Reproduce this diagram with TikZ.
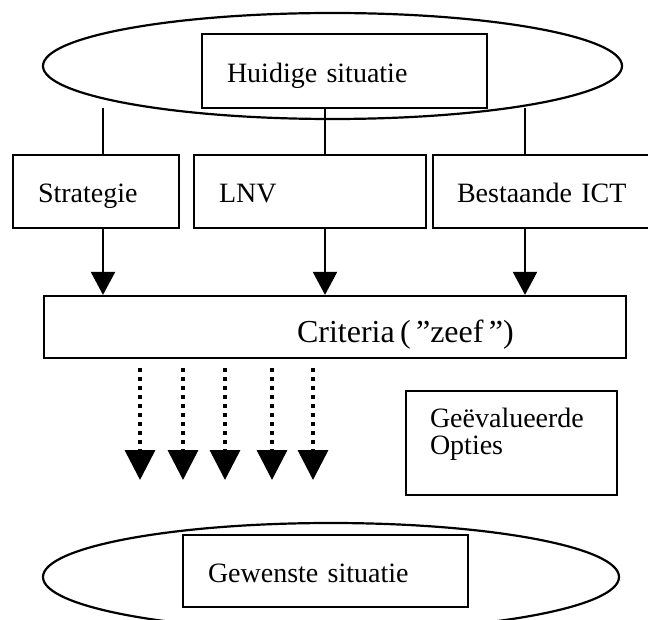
\documentclass[tikz,border=0pt]{standalone}
\usepackage{fontspec}
\setmainfont{Liberation Serif}
\usetikzlibrary{shapes.geometric, arrows.meta, positioning}

\begin{document}
\begin{tikzpicture}[x=1pt, y=-1pt, line width=2.2pt,
    font=\fontsize{28}{27}\selectfont,
    situatie/.style={draw, ellipse, inner sep=0pt},
    kader/.style={draw, rectangle, inner xsep=25pt, inner ysep=0pt, align=left,
        text height=23pt, text depth=0pt},
    stap/.style={-{Triangle[width=24pt, length=23pt]}},
    zeef/.style={-{Triangle[width=30pt, length=30pt]}, line width=3.6pt,
        dash pattern=on 3.6pt off 5.4pt}]
    \useasboundingbox (0,0) rectangle (648,620);

    % Huidige situatie
    \node[situatie, minimum width=579pt, minimum height=106pt] (huidig) at (332.5,66) {};
    \node[kader, text width=235pt, minimum height=74pt] (huidigtxt) at (344.5,71) {Huidige situatie};

    % Drie invalshoeken
    \node[kader, text width=116pt, minimum height=73pt] (strat) at (96,191.5) {Strategie};
    \node[kader, text width=182pt, minimum height=73pt] (lnv) at (310,191.5) {LNV};
    \node[kader, inner xsep=24pt, text width=199pt, minimum height=73pt] (ict) at (556.5,191.5) {Bestaande ICT};

    % Criteria (zeef)
    \node[draw, rectangle, minimum width=582pt, minimum height=62pt] (criteria) at (335,327) {};
    \node[anchor=base west, inner sep=0pt, font=\fontsize{32}{32}\selectfont]
        (criterialabel) at ([xshift=253pt, yshift=-16pt]criteria.west) {Criteria\,(\,”zeef\,”)};

    % Opties
    \node[kader, inner xsep=24pt, text width=163pt, minimum height=104pt,
        text height=0pt, text depth=32pt] (opties) at (511.5,443) {Geëvalueerde\\Opties};

    % Gewenste situatie
    \node[situatie, minimum width=576pt, minimum height=108pt] (gewenst) at (331,577) {};
    \node[kader, text width=235pt, minimum height=72pt] (gewensttxt) at (325.5,571) {Gewenste situatie};

    % Verbindingen
    \coordinate (tak1) at (103,108);
    \coordinate (tak2) at (325,108);
    \coordinate (tak3) at (525,108);
    \foreach \t/\b in {tak1/strat, tak2/lnv, tak3/ict} {
        \draw (\t) -- (\t |- \b.north);
        \draw[stap] (\t |- \b.south) -- (\t |- criteria.north);
    }

    % Gezeefde opties
    \foreach \x [count=\i] in {140,183,225,272,313} {
        \coordinate (optie\i) at (\x,480);
        \draw[zeef, shorten <=9pt] (optie\i |- criteria.south) -- (optie\i);
    }
\end{tikzpicture}
\end{document}
